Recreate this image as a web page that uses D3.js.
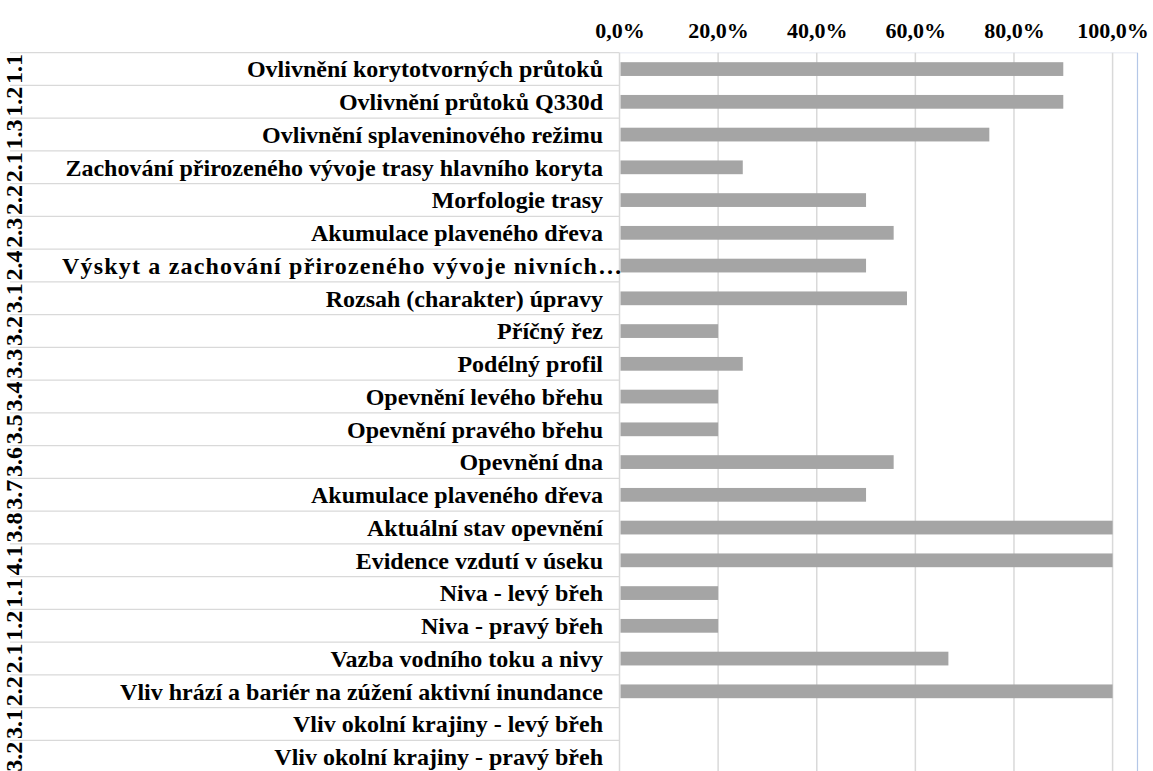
<!DOCTYPE html>
<html>
<head>
<meta charset="utf-8">
<script src="https://cdn.jsdelivr.net/npm/d3@7"></script>
<style>
  html, body { margin: 0; padding: 0; background: #ffffff; }
  svg { display: block; }
  text { font-family: "Liberation Serif", "Times New Roman", Tinos, "DejaVu Serif", serif; font-weight: bold; fill: #000; }
</style>
</head>
<body>
<svg id="chart" width="1153" height="771"></svg>
<script>
// Section codes (outer category level), one per row
const codes = ["1.1","1.2","1.3","2.1","2.2","2.3","2.4","3.1","3.2","3.3","3.4",
               "3.5","3.6","3.7","3.8","4.1","1.1","1.2","2.1","2.2","3.1","3.2"];

// Indicator names (inner category level)
const labels = [
  "Ovlivnění korytotvorných průtoků",
  "Ovlivnění průtoků Q330d",
  "Ovlivnění splaveninového režimu",
  "Zachování přirozeného vývoje trasy hlavního koryta",
  "Morfologie trasy",
  "Akumulace plaveného dřeva",
  "Výskyt a zachování přirozeného vývoje nivních…",
  "Rozsah (charakter) úpravy",
  "Příčný řez",
  "Podélný profil",
  "Opevnění levého břehu",
  "Opevnění pravého břehu",
  "Opevnění dna",
  "Akumulace plaveného dřeva",
  "Aktuální stav opevnění",
  "Evidence vzdutí v úseku",
  "Niva - levý břeh",
  "Niva - pravý břeh",
  "Vazba vodního toku a nivy",
  "Vliv hrází a bariér na zúžení aktivní inundance",
  "Vliv okolní krajiny - levý břeh",
  "Vliv okolní krajiny - pravý břeh"
];

// Share of sections per indicator
const values = [0.90, 0.90, 0.75, 0.25, 0.50, 0.556, 0.50, 0.583, 0.20, 0.25, 0.20,
                0.20, 0.556, 0.50, 1.00, 1.00, 0.20, 0.20, 0.667, 1.00, 0, 0];

// Axis ticks
const ticks = [0, 0.2, 0.4, 0.6, 0.8, 1.0];

const svg = d3.select("#chart");
const idx = d3.range(labels.length);
const FONT = "'Liberation Serif', 'Times New Roman', Tinos, 'DejaVu Serif', serif";

const plotLeft = 619.5, plotRight = 1112.6;
const plotTop = 52.7, rowH = 32.75;

const x = d3.scaleLinear().domain([0, 1]).range([plotLeft, plotRight]);
const y = d3.scaleBand().domain(idx).range([plotTop, plotTop + rowH * labels.length]).padding(0);

const locale = d3.formatLocale({ decimal: ",", thousands: "\u00a0", grouping: [3], currency: ["", " Kč"] });
const pct = locale.format(".1%");

// Faint plot frame and the selection edge on the right
svg.append("line")
  .attr("x1", plotLeft).attr("x2", 1137.5).attr("y1", plotTop).attr("y2", plotTop)
  .attr("stroke", "#eef0f6").attr("stroke-width", 1.5);
svg.append("line")
  .attr("x1", 1137.5).attr("x2", 1137.5).attr("y1", plotTop).attr("y2", 771)
  .attr("stroke", "#b4c7e7").attr("stroke-width", 1.2);

// Vertical gridlines
svg.append("g").selectAll("line")
  .data(ticks.slice(1))
  .join("line")
  .attr("x1", d => x(d)).attr("x2", d => x(d))
  .attr("y1", plotTop).attr("y2", 771)
  .attr("stroke", "#d9d9d9").attr("stroke-width", 1.5);

// Category table: row separators and the axis border
svg.append("g").selectAll("line")
  .data(d3.range(labels.length + 1))
  .join("line")
  .attr("x1", 10).attr("x2", plotLeft)
  .attr("y1", i => plotTop + i * rowH).attr("y2", i => plotTop + i * rowH)
  .attr("stroke", "#d9d9d9").attr("stroke-width", 1.2);
svg.append("line")
  .attr("x1", plotLeft).attr("x2", plotLeft)
  .attr("y1", plotTop).attr("y2", 771)
  .attr("stroke", "#d9d9d9").attr("stroke-width", 1.5);

// Bars
const barFrac = 0.42;
svg.append("g").selectAll("rect")
  .data(idx)
  .join("rect")
  .attr("x", x(0) + 1)
  .attr("y", i => y(i) + y.bandwidth() * (1 - barFrac) / 2)
  .attr("width", i => Math.max(0, x(values[i]) - x(0) - 1))
  .attr("height", y.bandwidth() * barFrac)
  .attr("fill", "#a5a5a5");

// Top axis labels
const axis = d3.axisTop(x).tickValues(ticks).tickFormat(pct).tickSize(0).tickPadding(0);
const gAxis = svg.append("g").attr("transform", "translate(0,38)").call(axis);
gAxis.attr("font-family", FONT);
gAxis.select(".domain").remove();
gAxis.selectAll("text")
  .style("font-family", FONT)
  .style("font-weight", "bold")
  .style("font-size", "22px")
  .attr("fill", "#000");

// Indicator names; a shortened name is spread over the full cell width
svg.append("g").selectAll("text")
  .data(idx)
  .join("text")
  .attr("x", i => labels[i].endsWith("…") ? 62 : 603)
  .attr("y", i => y(i) + y.bandwidth() / 2)
  .attr("dy", "0.35em")
  .attr("text-anchor", i => labels[i].endsWith("…") ? "start" : "end")
  .attr("textLength", i => labels[i].endsWith("…") ? 560 : null)
  .attr("lengthAdjust", "spacing")
  .style("font-family", FONT)
  .style("font-size", "24px")
  .text(i => labels[i]);

// Section codes, rotated
svg.append("g").selectAll("text")
  .data(idx)
  .join("text")
  .attr("transform", i => `translate(22,${y(i) + y.bandwidth() / 2}) rotate(-90)`)
  .attr("text-anchor", "middle")
  .style("font-family", FONT)
  .style("font-size", "24px")
  .text(i => codes[i]);
</script>
</body>
</html>
